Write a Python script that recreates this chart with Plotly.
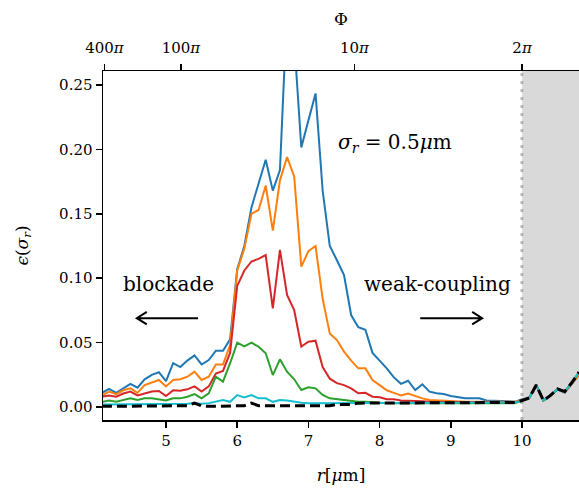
import plotly.graph_objects as go

# ---------------- data ----------------
r_um = [4.1, 4.2, 4.3, 4.4, 4.5, 4.6, 4.7, 4.8, 4.9, 5.0,
        5.1, 5.2, 5.3, 5.4, 5.5, 5.6, 5.7, 5.8, 5.9, 6.0,
        6.1, 6.2, 6.3, 6.4, 6.5, 6.6, 6.7, 6.8, 6.9, 7.0,
        7.1, 7.2, 7.3, 7.4, 7.5, 7.6, 7.7, 7.8, 7.9, 8.0,
        8.1, 8.2, 8.3, 8.4, 8.5, 8.6, 8.7, 8.8, 8.9, 9.0,
        9.1, 9.2, 9.3, 9.4, 9.5, 9.6, 9.7, 9.8, 9.9, 10.0,
        10.1, 10.2, 10.3, 10.4, 10.5, 10.6, 10.7, 10.8]

eps_blue = [0.011, 0.014, 0.011, 0.0145, 0.018, 0.015, 0.0215, 0.025, 0.027, 0.020,
            0.034, 0.031, 0.036, 0.040, 0.033, 0.0365, 0.0437, 0.0437, 0.0525, 0.107,
            0.125, 0.155, 0.174, 0.192, 0.168, 0.184, 0.310, 0.285, 0.2016, 0.222,
            0.2435, 0.168, 0.125, 0.114, 0.1025, 0.0714, 0.062, 0.060, 0.042, 0.036,
            0.030, 0.023, 0.018, 0.0204, 0.0132, 0.0176, 0.0119, 0.0106, 0.0101, 0.0085,
            0.0075, 0.0067, 0.0067, 0.0067, 0.005, 0.005, 0.005, 0.0045, 0.004, 0.006,
            0.007, 0.017, 0.005, 0.009, 0.0135, 0.011, 0.018, 0.025]

eps_orange = [0.009, 0.012, 0.010, 0.013, 0.0145, 0.011, 0.017, 0.019, 0.021, 0.016,
              0.021, 0.0215, 0.0235, 0.0275, 0.021, 0.0235, 0.033, 0.033, 0.048, 0.106,
              0.123, 0.150, 0.153, 0.172, 0.137, 0.176, 0.194, 0.179, 0.109, 0.121,
              0.125, 0.084, 0.057, 0.052, 0.043, 0.036, 0.030, 0.030, 0.021, 0.017,
              0.013, 0.011, 0.009, 0.0105, 0.0085, 0.0067, 0.0054, 0.005, 0.005, 0.0045,
              0.004, 0.004, 0.004, 0.004, 0.004, 0.004, 0.004, 0.004, 0.004, 0.0055,
              0.007, 0.017, 0.005, 0.009, 0.014, 0.0115, 0.018, 0.025]

eps_red = [0.008, 0.009, 0.008, 0.0105, 0.012, 0.009, 0.0105, 0.012, 0.0124, 0.0085,
           0.013, 0.0127, 0.0137, 0.016, 0.012, 0.016, 0.026, 0.028, 0.042, 0.094,
           0.106, 0.113, 0.115, 0.118, 0.0766, 0.122, 0.087, 0.0753, 0.047, 0.0507,
           0.0515, 0.031, 0.022, 0.0185, 0.017, 0.0145, 0.0106, 0.011, 0.008, 0.0075,
           0.006, 0.006, 0.005, 0.005, 0.0047, 0.0045, 0.004, 0.004, 0.004, 0.004,
           0.0035, 0.0035, 0.0035, 0.0035, 0.0035, 0.0035, 0.0035, 0.0035, 0.0035, 0.005,
           0.007, 0.017, 0.005, 0.009, 0.014, 0.012, 0.019, 0.027]

eps_green = [0.004, 0.005, 0.004, 0.0054, 0.0067, 0.0054, 0.0067, 0.0067, 0.006, 0.005,
             0.0067, 0.0067, 0.008, 0.010, 0.0067, 0.0106, 0.0235, 0.0197, 0.034, 0.050,
             0.047, 0.050, 0.0468, 0.0417, 0.0248, 0.037, 0.0274, 0.0215, 0.0132, 0.0153,
             0.0145, 0.0093, 0.0067, 0.006, 0.005, 0.0045, 0.004, 0.004, 0.0035, 0.0035,
             0.003, 0.003, 0.003, 0.003, 0.003, 0.003, 0.003, 0.003, 0.003, 0.003,
             0.003, 0.003, 0.003, 0.003, 0.003, 0.003, 0.003, 0.003, 0.003, 0.005,
             0.007, 0.017, 0.005, 0.009, 0.014, 0.012, 0.019, 0.027]

eps_cyan = [0.002, 0.002, 0.002, 0.002, 0.002, 0.002, 0.002, 0.002, 0.002, 0.002,
            0.002, 0.0025, 0.0025, 0.003, 0.0025, 0.003, 0.004, 0.0054, 0.004, 0.0093,
            0.0075, 0.0093, 0.0067, 0.0067, 0.004, 0.0054, 0.005, 0.004, 0.0033, 0.003,
            0.003, 0.003, 0.003, 0.003, 0.003, 0.003, 0.003, 0.003, 0.003, 0.003,
            0.003, 0.003, 0.003, 0.003, 0.003, 0.003, 0.003, 0.003, 0.003, 0.003,
            0.003, 0.003, 0.003, 0.003, 0.003, 0.0035, 0.0035, 0.0035, 0.0035, 0.005,
            0.007, 0.017, 0.005, 0.009, 0.014, 0.012, 0.019, 0.027]

eps_black = [0.0005, 0.0005, 0.0005, 0.0005, 0.0005, 0.0005, 0.0005, 0.0005, 0.0005, 0.0005,
             0.0005, 0.0005, 0.001, 0.003, 0.0008, 0.0005, 0.0005, 0.0005, 0.0005, 0.0008,
             0.001, 0.003, 0.001, 0.001, 0.001, 0.001, 0.001, 0.001, 0.001, 0.001,
             0.001, 0.001, 0.001, 0.002, 0.002, 0.002, 0.003, 0.003, 0.003, 0.003,
             0.003, 0.003, 0.003, 0.003, 0.003, 0.003, 0.003, 0.003, 0.003, 0.003,
             0.003, 0.003, 0.003, 0.003, 0.003, 0.0035, 0.0035, 0.0035, 0.0035, 0.005,
             0.007, 0.017, 0.005, 0.009, 0.014, 0.012, 0.019, 0.027]

phi_over_pi = [400, 100, 10, 2]
phi_labels = ["400<i>π</i>", "100<i>π</i>", "10<i>π</i>", "2<i>π</i>"]
x_ticks = [5, 6, 7, 8, 9, 10]
y_ticks = [0.00, 0.05, 0.10, 0.15, 0.20, 0.25]

# Φ = 2π (10 µm / r)^6  ->  r = 10 (2π/Φ)^(1/6)
phi_pos = [10.0 * (2.0 / p) ** (1.0 / 6.0) for p in phi_over_pi]

X_RANGE = [4.115, 10.8]
Y_RANGE = [-0.0101, 0.2609]
FONT = "DejaVu Serif"

series = [
    (eps_blue, "#1f77b4", "solid", 2),
    (eps_orange, "#ff7f0e", "solid", 2),
    (eps_red, "#d62728", "solid", 2),
    (eps_green, "#2ca02c", "solid", 2),
    (eps_cyan, "#17becf", "solid", 2),
    (eps_black, "#000000", "10px,5px", 3),
]

fig = go.Figure()
for ys, col, dash, w in series:
    fig.add_trace(go.Scatter(x=r_um, y=ys, mode="lines",
                             line=dict(color=col, width=w, dash=dash),
                             showlegend=False, hoverinfo="skip"))
# invisible trace to anchor the top axis
fig.add_trace(go.Scatter(x=[X_RANGE[0]], y=[0], xaxis="x2", mode="markers",
                         marker=dict(opacity=0), showlegend=False, hoverinfo="skip"))

# shaded region beyond 2π and dotted marker line
fig.add_shape(type="rect", xref="x", yref="paper", x0=10, x1=11, y0=0, y1=1,
              fillcolor="#d9d9d9", line=dict(width=0), layer="below")
fig.add_shape(type="line", xref="x", yref="paper", x0=10, x1=10, y0=0, y1=1,
              line=dict(color="#b3b3b3", width=3, dash="3px,5px"), layer="below")

# arrows (matplotlib "->" style)
ay = 0.069
dx_head, dy_head = 0.14, 0.0048
for tail, tip in [(5.45, 4.59), (8.57, 9.44)]:
    s = 1 if tail > tip else -1
    fig.add_shape(type="path", xref="x", yref="y",
                  path=f"M {tail},{ay} L {tip},{ay} M {tip + s*dx_head},{ay + dy_head} L {tip},{ay} L {tip + s*dx_head},{ay - dy_head}",
                  line=dict(color="black", width=2))

fig.add_annotation(x=5.03, y=0.0955, xref="x", yref="y", text="blockade",
                   showarrow=False, font=dict(family=FONT, size=20, color="black"))
fig.add_annotation(x=8.81, y=0.0955, xref="x", yref="y", text="weak-coupling",
                   showarrow=False, font=dict(family=FONT, size=20, color="black"))
fig.add_annotation(x=8.22, y=0.205, xref="x", yref="y",
                   text="<i>σ</i><sub><i>r</i></sub> = 0.5<i>μ</i>m",
                   showarrow=False, font=dict(family=FONT, size=20, color="black"))

axis_common = dict(showgrid=False, zeroline=False, ticks="outside", ticklen=6,
                   tickwidth=1.5, tickcolor="black", showline=True, linecolor="black",
                   linewidth=1.5, automargin=False,
                   tickfont=dict(family=FONT, size=15, color="black"))

fig.update_layout(
    width=579, height=489,
    margin=dict(l=103, r=0, t=71, b=69),
    paper_bgcolor="white", plot_bgcolor="white",
    font=dict(family=FONT, color="black"),
    xaxis=dict(range=X_RANGE, tickvals=x_ticks, ticktext=[str(v) for v in x_ticks],
               title=dict(text="<i>r</i>[<i>μ</i>m]", font=dict(family=FONT, size=17), standoff=20),
               **axis_common),
    xaxis2=dict(range=X_RANGE, overlaying="x", side="top", tickvals=phi_pos,
                ticktext=phi_labels, ticklabelstandoff=5,
                title=dict(text="Φ", font=dict(family=FONT, size=17), standoff=8),
                **axis_common),
    yaxis=dict(range=Y_RANGE, tickvals=y_ticks, tickformat=".2f",
               title=dict(text="<i>ϵ</i>(<i>σ</i><sub><i>r</i></sub>)", font=dict(family=FONT, size=17), standoff=26),
               **axis_common),
)

fig.write_html("out.html", config={"displayModeBar": False, "staticPlot": True},
               post_script="document.body.style.margin='0';document.body.style.overflow='hidden';")
